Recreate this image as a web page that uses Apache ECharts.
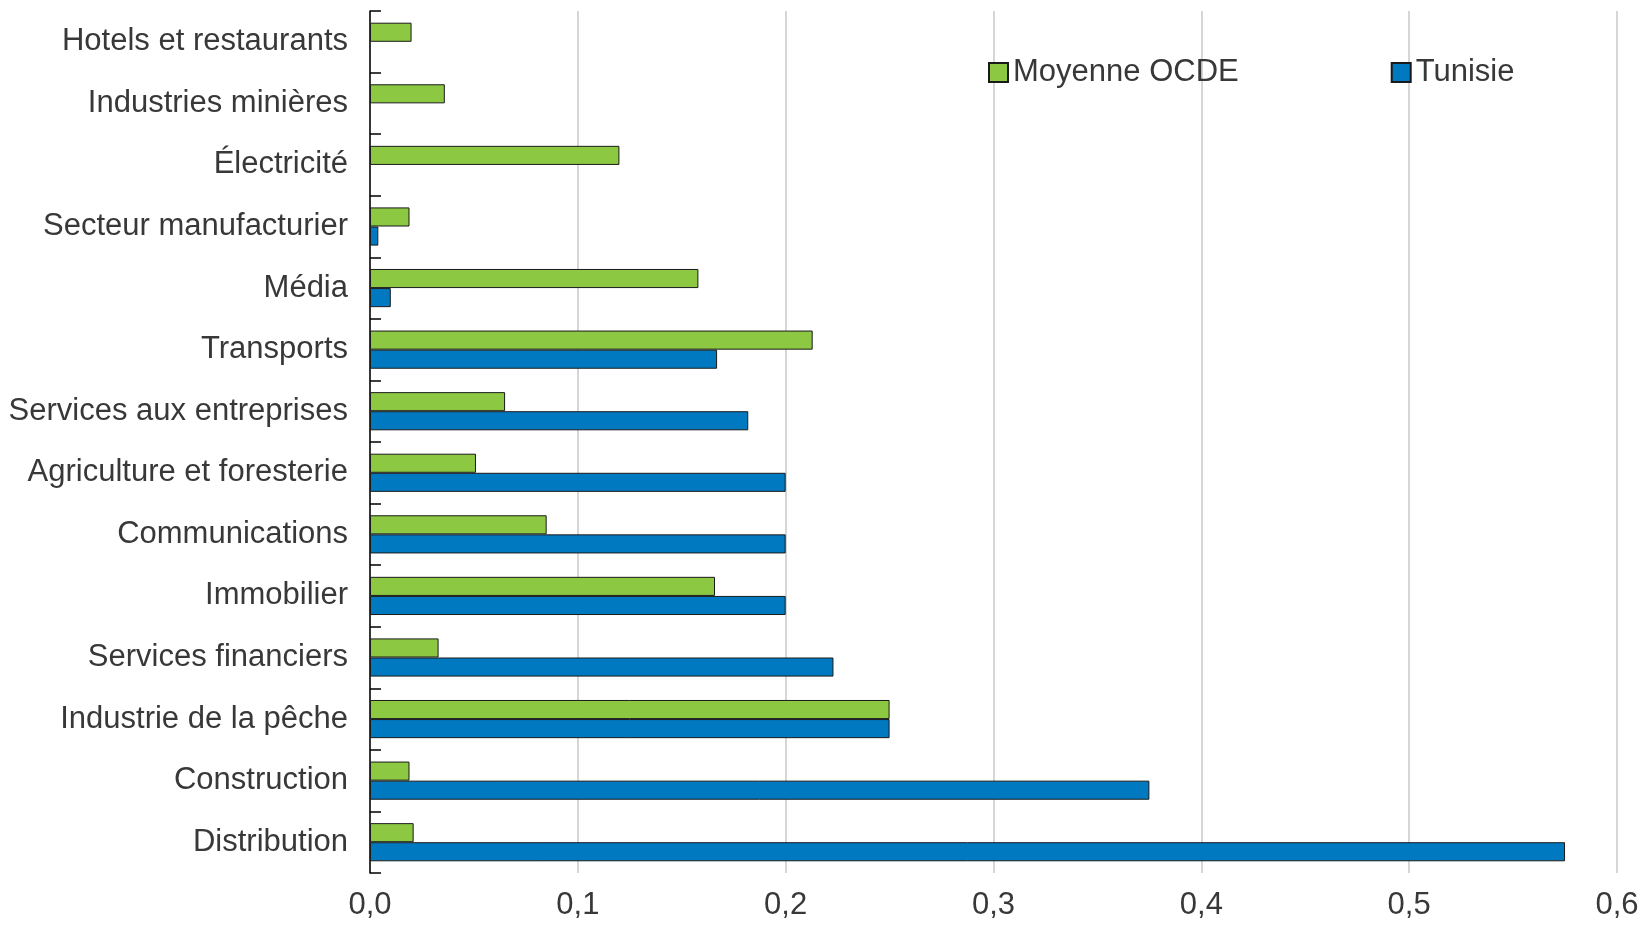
<!DOCTYPE html>
<html>
<head>
<meta charset="utf-8">
<script src="https://cdn.jsdelivr.net/npm/echarts@6/dist/echarts.min.js"></script>
<style>
html,body{margin:0;padding:0;background:#fff;}
#chart{width:1651px;height:936px;}
</style>
</head>
<body>
<div id="chart"></div>
<script>
// Categories, top to bottom
const categories = [
  "Hotels et restaurants",
  "Industries minières",
  "Électricité",
  "Secteur manufacturier",
  "Média",
  "Transports",
  "Services aux entreprises",
  "Agriculture et foresterie",
  "Communications",
  "Immobilier",
  "Services financiers",
  "Industrie de la pêche",
  "Construction",
  "Distribution"
];
const seriesNames = ["Moyenne OCDE", "Tunisie"];
const ocde = [0.020, 0.036, 0.120, 0.019, 0.158, 0.213, 0.065, 0.051, 0.085, 0.166, 0.033, 0.250, 0.019, 0.021];
const tunisie = [null, null, null, 0.004, 0.010, 0.167, 0.182, 0.200, 0.200, 0.200, 0.223, 0.250, 0.375, 0.575];
const xTicks = [0, 0.1, 0.2, 0.3, 0.4, 0.5, 0.6];

const FONT = "'Liberation Sans Narrow', 'Arial Narrow', 'Liberation Sans', sans-serif";
const chart = echarts.init(document.getElementById('chart'));
chart.setOption({
  animation: false,
  backgroundColor: '#ffffff',
  textStyle: { fontFamily: FONT },
  grid: { left: 370, right: 34, top: 11, bottom: 63, containLabel: false },
  legend: {
    data: seriesNames,
    left: 983, top: 52,
    itemWidth: 19, itemHeight: 19, itemGap: 152,
    textStyle: { fontFamily: FONT, fontSize: 31, color: '#383838' },
    icon: 'rect'
  },
  xAxis: {
    type: 'value',
    min: xTicks[0], max: xTicks[xTicks.length - 1], interval: 0.1,
    axisLine: { show: false },
    axisTick: { show: false },
    splitLine: { show: true, lineStyle: { color: '#c8c8c8', width: 1.5 } },
    axisLabel: {
      fontFamily: FONT, fontSize: 31, color: '#383838', margin: 17,
      formatter: v => v.toFixed(1).replace('.', ',')
    }
  },
  yAxis: {
    type: 'category',
    data: categories,
    inverse: true,
    axisLine: { show: true, lineStyle: { color: '#000000', width: 1.5 } },
    axisTick: { show: true, inside: true, length: 11, lineStyle: { color: '#000000', width: 1.5 } },
    axisLabel: { fontFamily: FONT, fontSize: 31, color: '#383838', margin: 22 },
    splitLine: { show: false }
  },
  series: [
    {
      name: seriesNames[0], type: 'bar', data: ocde,
      barGap: '0%', barCategoryGap: '38%',
      itemStyle: { color: '#8cc841', borderColor: '#1a1a1a', borderWidth: 1 }
    },
    {
      name: seriesNames[1], type: 'bar', data: tunisie,
      barGap: '0%', barCategoryGap: '38%',
      itemStyle: { color: '#0079c0', borderColor: '#1a1a1a', borderWidth: 1 }
    }
  ]
});
</script>
</body>
</html>
